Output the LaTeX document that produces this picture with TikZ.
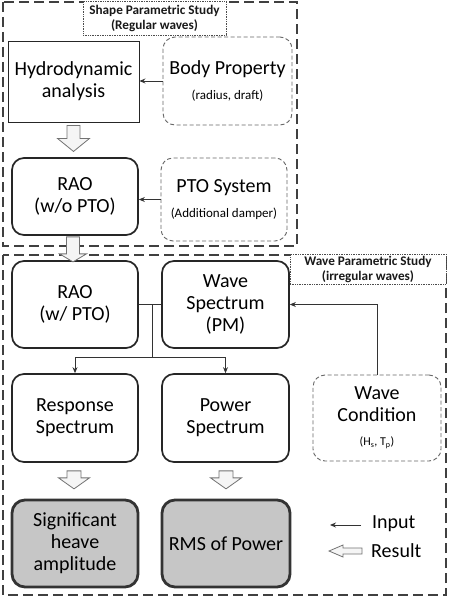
\documentclass[tikz,border=0pt]{standalone}
\usepackage{fontspec}
\setmainfont{Carlito}
\usetikzlibrary{calc,arrows.meta}
\begin{document}
\begin{tikzpicture}[x=1pt,y=-1pt,
  big/.style={font=\fontsize{20}{22}\selectfont, align=center, text=black, inner sep=0pt},
  plainbox/.style={big, draw=black!85, line width=0.9pt},
  solidbox/.style={big, draw=black!85, line width=1.7pt, rounded corners=12pt},
  dashbox/.style={big, draw=black!60, line width=0.9pt, dash pattern=on 4pt off 2.5pt, rounded corners=12pt},
  resbox/.style={big, draw=black!80, fill=gray!45, line width=2.8pt, rounded corners=13pt},
  frame/.style={draw=black!75, line width=2.8pt, dash pattern=on 10pt off 5pt},
  titlebox/.style={draw=black!70, fill=white, line width=0.7pt, densely dotted, align=center,
    font=\fontsize{13.2}{15}\selectfont\bfseries, inner sep=0pt, text=black!90},
  inarrow/.style={draw=black!80, line width=0.9pt, -{Stealth[length=6pt,width=5pt]}},
  link/.style={draw=black!80, line width=0.9pt},
  hollow/.style={draw=black!55, fill=gray!8, line width=0.8pt, line join=miter}
]
\useasboundingbox (0,0) rectangle (450,599);
\fill[white] (0,0) rectangle (450,599);

% frames
\draw[frame] (3,2) rectangle (297,246);
\draw[frame] (3,255) rectangle (446,595);
\node[titlebox, minimum width=143pt, minimum height=34pt] (t1) at (154.5,18) {Shape Parametric Study\\(Regular waves)};
\node[titlebox, minimum width=156pt, minimum height=30pt] (t2) at (368,269) {Wave Parametric Study\\(irregular waves)};

% top study
\node[plainbox, minimum width=131pt, minimum height=81pt] (hydro) at (73.5,81.5) {Hydrodynamic\\analysis};
\node[dashbox, minimum width=129pt, minimum height=88pt] (body) at (227.5,81) {Body Property\\[3pt]{\fontsize{13}{15}\selectfont (radius, draft)}};
\node[solidbox, minimum width=126pt, minimum height=77pt] (rao1) at (75,196.5) {RAO\\(w/o PTO)};
\node[dashbox, minimum width=126pt, minimum height=83pt] (pto) at (224,199.5) {PTO System\\[3pt]{\fontsize{13}{15}\selectfont (Additional damper)}};

\draw[inarrow] (body.west) -- (body.west -| hydro.east);
\draw[inarrow] (pto.west) -- (pto.west -| rao1.east);

% bottom study
\node[solidbox, minimum width=126pt, minimum height=87pt] (rao2) at (75,304.5) {RAO\\(w/ PTO)};
\node[solidbox, minimum width=127pt, minimum height=87pt] (ws) at (225.5,304.5) {Wave\\Spectrum\\(PM)};
\node[solidbox, minimum width=126pt, minimum height=88pt] (resp) at (75,418) {Response\\Spectrum};
\node[solidbox, minimum width=127pt, minimum height=88pt] (pow) at (225.5,418) {Power\\Spectrum};
\node[dashbox, minimum width=128pt, minimum height=86pt] (wc) at (377,418) {Wave\\Condition\\[2pt]{\fontsize{12}{14}\selectfont (H\textsubscript{s}, T\textsubscript{p})}};
\node[resbox, minimum width=126pt, minimum height=87pt] (sig) at (75,543.5) {Significant\\heave\\amplitude};
\node[resbox, minimum width=128pt, minimum height=87pt] (rms) at (226,543.5) {RMS of Power};

\draw[link] (rao2.east) -- (ws.west);
\coordinate (j) at (152,304.5);
\coordinate (jd) at (152,357);
\draw[link] (j) -- (jd);
\draw[inarrow] (jd) -| (resp.north);
\draw[inarrow] (jd) -| (pow.north);
\draw[inarrow] (wc.north) |- (ws.east);

% hollow result arrows
\draw[hollow] ($(hydro.south)+(0,3)$) ++(-6.5,0) -- ++(13,0) -- ++(0,13) -- ++(9.5,0) -- ++(-16,13) -- ++(-16,-13) -- ++(9.5,0) -- cycle;
\draw[hollow] ($(rao1.south)+(-2,1)$) ++(-6.5,0) -- ++(13,0) -- ++(0,17) -- ++(7,0) -- ++(-13.5,8) -- ++(-13.5,-8) -- ++(7,0) -- cycle;
\draw[hollow] ($(resp.south)+(-1,8)$) ++(-7,0) -- ++(14,0) -- ++(0,7) -- ++(8.5,0) -- ++(-15.5,11) -- ++(-15.5,-11) -- ++(8.5,0) -- cycle;
\draw[hollow] ($(pow.south)+(0.5,8)$) ++(-7,0) -- ++(14,0) -- ++(0,7) -- ++(8.5,0) -- ++(-15.5,11) -- ++(-15.5,-11) -- ++(8.5,0) -- cycle;

% legend
\node[big, anchor=west] (inlbl) at (372,524) {Input};
\node[big, anchor=west] (reslbl) at (371,551) {Result};
\coordinate (ina) at ($(inlbl.west)+(-11,1)$);
\coordinate (inb) at ($(inlbl.west)+(-42,1)$);
\draw[inarrow] (ina) -- (inb);
\draw[hollow] ($(reslbl.west)+(-9,0)$) ++(0,-3) -- ++(0,6) -- ++(-19,0) -- ++(0,3) -- ++(-14,-6) -- ++(14,-6) -- ++(0,3) -- cycle;
\end{tikzpicture}
\end{document}
